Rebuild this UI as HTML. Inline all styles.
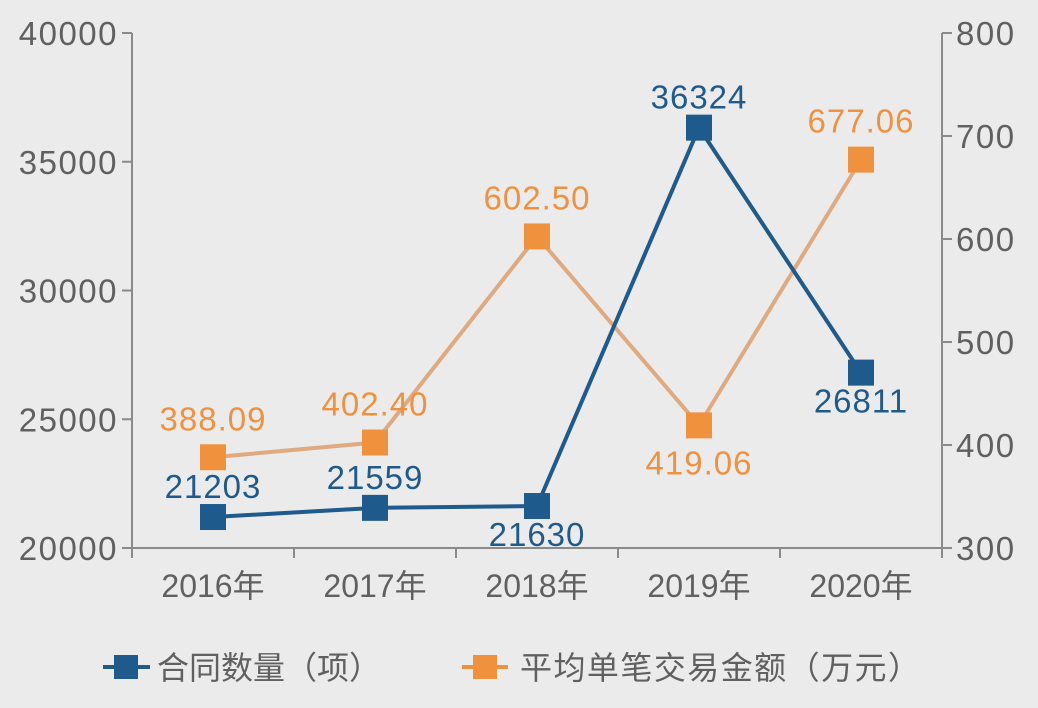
<!DOCTYPE html>
<html><head><meta charset="utf-8"><style>
html,body{margin:0;padding:0;background:#ebebeb;}
svg{display:block;font-family:"Liberation Sans","Noto Sans CJK SC",sans-serif;}
</style></head><body>
<svg id="chart" width="1038" height="708" viewBox="0 0 1038 708" xmlns="http://www.w3.org/2000/svg">
<rect width="1038" height="708" fill="#ebebeb"/>
<g id="axes"></g><g id="series"></g>
<g>
<g>
<line x1="103" y1="667" x2="150" y2="667" stroke="#1f5a8c" stroke-width="4"/>
<rect x="114" y="655" width="24" height="24" fill="#1f5a8c"/>
<text x="157" y="679" font-size="32" fill="#606060">合同数量（项）</text></g>
<g>
<line x1="462" y1="667" x2="508" y2="667" stroke="#f0913e" stroke-width="4"/>
<rect x="473" y="655" width="24" height="24" fill="#f0913e"/>
<text x="520" y="679" font-size="32" fill="#606060" textLength="400">平均单笔交易金额（万元）</text></g>
</g>
</svg>
<script>
const categories=["2016年","2017年","2018年","2019年","2020年"];
const contracts=[21203,21559,21630,36324,26811];
const avgAmount=[388.09,402.40,602.50,419.06,677.06];
const avgLabels=["388.09","402.40","602.50","419.06","677.06"];
const leftTicks=[20000,25000,30000,35000,40000];
const rightTicks=[300,400,500,600,700,800];
const NS="http://www.w3.org/2000/svg";
const X0=132,X1=942,Y0=548,Y1=33;
const bw=(X1-X0)/categories.length;
const xPos=i=>X0+bw*(i+0.5);
const yL=v=>Y0-(v-20000)/20000*(Y0-Y1);
const yR=v=>Y0-(v-300)/500*(Y0-Y1);
function mk(tag,attrs,parent,text){const e=document.createElementNS(NS,tag);for(const k in attrs)e.setAttribute(k,attrs[k]);if(text!==undefined)e.textContent=text;parent.appendChild(e);return e;}
const ax=document.getElementById('axes'),se=document.getElementById('series');
const G="#8a8a8a",T="#606060";
let e;
e=mk('line',{x1:X0,y1:Y1,x2:X0,y2:Y0,stroke:G,'stroke-width':2},ax);

e=mk('line',{x1:X1,y1:Y1,x2:X1,y2:Y0,stroke:G,'stroke-width':2},ax);

e=mk('line',{x1:X0,y1:Y0,x2:X1,y2:Y0,stroke:G,'stroke-width':2},ax);

leftTicks.forEach(v=>{const y=yL(v);
 mk('line',{x1:X0-10,y1:y,x2:X0,y2:y,stroke:G,'stroke-width':2},ax);
 e=mk('text',{x:118,y:y+12,'font-size':33,fill:T,'text-anchor':'end','letter-spacing':'1.5'},ax,v);
 });
rightTicks.forEach(v=>{const y=yR(v);
 mk('line',{x1:X1,y1:y,x2:X1+10,y2:y,stroke:G,'stroke-width':2},ax);
 e=mk('text',{x:956,y:y+12,'font-size':33,fill:T,'letter-spacing':'1.5'},ax,v);
 });
categories.forEach((c,i)=>{
 mk('line',{x1:X0+bw*i,y1:Y0,x2:X0+bw*i,y2:Y0+10,stroke:G,'stroke-width':2},ax);
 e=mk('text',{x:xPos(i),y:597,'font-size':32,fill:T,'text-anchor':'middle'},ax,c);
 });
mk('line',{x1:X1,y1:Y0,x2:X1,y2:Y0+10,stroke:G,'stroke-width':2},ax);
e=mk('polyline',{points:avgAmount.map((v,i)=>xPos(i)+','+yR(v)).join(' '),fill:'none',stroke:'#e0aa80','stroke-width':4},se);

e=mk('polyline',{points:contracts.map((v,i)=>xPos(i)+','+yL(v)).join(' '),fill:'none',stroke:'#1f5a8c','stroke-width':4},se);

const orangeAbove=[true,true,true,false,true];
avgAmount.forEach((v,i)=>{const x=xPos(i),y=yR(v);
 e=mk('rect',{x:x-13,y:y-13,width:26,height:26,fill:'#f0913e'},se);
 
 e=mk('text',{x:x,y:orangeAbove[i]?y-27:y+49,'font-size':33,fill:'#f0913e','text-anchor':'middle','letter-spacing':'1'},se,avgLabels[i]);
 });
const blueAbove=[true,true,false,true,false];
contracts.forEach((v,i)=>{const x=xPos(i),y=yL(v);
 e=mk('rect',{x:x-13,y:y-13,width:26,height:26,fill:'#1f5a8c'},se);
 
 e=mk('text',{x:x,y:blueAbove[i]?y-19:y+40,'font-size':33,fill:'#1f5a8c','text-anchor':'middle','letter-spacing':'1'},se,v);
 });
</script>
</body></html>
